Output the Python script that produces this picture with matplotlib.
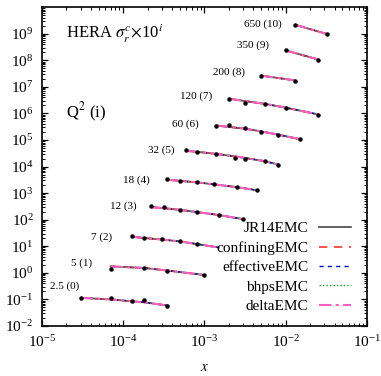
import matplotlib
matplotlib.use("Agg")
import matplotlib.pyplot as plt
import numpy as np
from matplotlib.ticker import LogLocator, LogFormatterMathtext, NullFormatter

plt.rcParams.update({"font.family": "serif", "font.serif": ["Liberation Serif", "DejaVu Serif"],
                     "mathtext.fontset": "stix", "font.size": 11})

# Q^2 bins and their scale exponent i (cross sections plotted x 10^i)
q2 = ["2.5", "5", "7", "12", "18", "32", "60", "120", "200", "350", "650"]
scale_i = [0, 1, 2, 3, 4, 5, 6, 7, 8, 9, 10]

# HERA charm data (x, sigma_r^c)
data_x = [
    [3.0e-5, 7.0e-5, 1.3e-4, 1.8e-4, 3.5e-4],
    [7.0e-5, 1.8e-4, 3.5e-4, 1.0e-3],
    [1.3e-4, 1.8e-4, 3.0e-4, 5.0e-4, 8.0e-4],
    [2.2e-4, 3.2e-4, 5.0e-4, 8.0e-4, 1.5e-3, 3.0e-3],
    [3.5e-4, 5.0e-4, 8.0e-4, 1.3e-3, 2.5e-3, 4.5e-3],
    [6.0e-4, 8.0e-4, 1.4e-3, 2.4e-3, 3.2e-3, 5.5e-3, 8.0e-3],
    [1.4e-3, 2.0e-3, 3.2e-3, 5.0e-3, 8.0e-3, 1.5e-2],
    [2.0e-3, 3.2e-3, 5.5e-3, 1.0e-2, 2.5e-2],
    [5.0e-3, 1.3e-2],
    [1.0e-2, 2.5e-2],
    [1.3e-2, 3.2e-2],
]
data_sig = [
    [0.116, 0.110, 0.089, 0.095, 0.058],
    [0.142, 0.155, 0.120, 0.083],
    [0.235, 0.198, 0.182, 0.157, 0.118],
    [0.316, 0.298, 0.235, 0.188, 0.149, 0.105],
    [0.327, 0.290, 0.259, 0.213, 0.164, 0.130],
    [0.425, 0.357, 0.300, 0.212, 0.195, 0.156, 0.110],
    [0.351, 0.360, 0.278, 0.202, 0.156, 0.107],
    [0.363, 0.257, 0.235, 0.167, 0.091],
    [0.266, 0.173],
    [0.238, 0.106],
    [0.220, 0.098],
]

# model curves (all EMC variants coincide at this scale)
theo_x = [
    [3.0e-5, 7.0e-5, 1.3e-4, 1.8e-4, 3.5e-4],
    [7.0e-5, 1.8e-4, 3.5e-4, 1.0e-3],
    [1.3e-4, 1.8e-4, 3.0e-4, 5.0e-4, 8.0e-4, 1.5e-3],
    [2.2e-4, 3.2e-4, 5.0e-4, 8.0e-4, 1.5e-3, 3.0e-3],
    [3.5e-4, 5.0e-4, 8.0e-4, 1.3e-3, 2.5e-3, 4.5e-3],
    [6.0e-4, 8.0e-4, 1.4e-3, 2.4e-3, 3.2e-3, 5.5e-3, 8.0e-3],
    [1.4e-3, 2.0e-3, 3.2e-3, 5.0e-3, 8.0e-3, 1.5e-2],
    [2.0e-3, 3.2e-3, 5.5e-3, 1.0e-2, 2.5e-2],
    [5.0e-3, 1.3e-2],
    [1.0e-2, 2.5e-2],
    [1.3e-2, 3.2e-2],
]
theo_sig = [
    [0.115, 0.100, 0.085, 0.078, 0.059],
    [0.175, 0.153, 0.122, 0.083],
    [0.228, 0.205, 0.180, 0.152, 0.122, 0.090],
    [0.300, 0.270, 0.235, 0.195, 0.150, 0.105],
    [0.320, 0.290, 0.255, 0.215, 0.168, 0.128],
    [0.390, 0.360, 0.300, 0.240, 0.210, 0.160, 0.120],
    [0.350, 0.310, 0.265, 0.210, 0.160, 0.107],
    [0.360, 0.290, 0.230, 0.165, 0.092],
    [0.266, 0.175],
    [0.235, 0.108],
    [0.218, 0.098],
]

models = ["JR14EMC", "confiningEMC", "effectiveEMC", "bhpsEMC", "deltaEMC"]
mcolors = ["#555555", "#ff3030", "#0000d0", "#20a020", "#ff5fbf"]
mstyles = ["-", (0, (5, 4)), (0, (3, 3)), (0, (1, 1.5)), (0, (6, 2, 1.5, 2))]
mwidths = [1.3, 1.2, 1.0, 1.0, 1.5]

# label anchors (right edge, data coords)
lab_x = [2.9e-5, 4.2e-5, 7.3e-5, 1.47e-4, 2.13e-4, 4.3e-4, 8.6e-4, 1.26e-3, 3.2e-3, 6.2e-3, 9.0e-3]
lab_y = [0.32, 2.28, 22.8, 333, 3.08e3, 4.14e4, 3.93e5, 4.55e6, 3.63e7, 3.66e8, 2.26e9]

fig = plt.figure(figsize=(3.81, 3.76), dpi=100)
ax = fig.add_axes([0.110, 0.133, 0.853, 0.848])
ax.set_xscale("log"); ax.set_yscale("log")

for k in range(len(q2)):
    f = 10.0 ** scale_i[k]
    tx = np.array(theo_x[k]); ty = np.array(theo_sig[k]) * f
    for m in range(len(models)):
        ax.plot(tx, ty, color=mcolors[m], ls=mstyles[m], lw=mwidths[m],
                label=models[m] if k == 0 else None, zorder=2 + m)
    ax.plot(data_x[k], np.array(data_sig[k]) * f, "o", color="black", ms=2.2, zorder=10)
    ax.text(lab_x[k], lab_y[k], f"{q2[k]} ({scale_i[k]})", ha="right", va="center", fontsize=8)

ax.text(0.075, 0.917, r"HERA $\sigma_r^c$$\times$10$^i$", transform=ax.transAxes, fontsize=12, va="center")
ax.text(0.075, 0.67, r"Q$^2$ (i)", transform=ax.transAxes, fontsize=12, va="center")

ax.set_xlim(1e-5, 1e-1)
ax.set_ylim(1e-2, 1e10)
ax.set_yticks([10.0 ** e for e in range(-2, 10)])
ax.xaxis.set_minor_locator(LogLocator(base=10, subs=np.arange(2, 10), numticks=20))
ax.yaxis.set_minor_locator(LogLocator(base=10, subs=np.arange(2, 10), numticks=30))
ax.xaxis.set_major_formatter(LogFormatterMathtext())
ax.yaxis.set_major_formatter(LogFormatterMathtext())
ax.xaxis.set_minor_formatter(NullFormatter()); ax.yaxis.set_minor_formatter(NullFormatter())
ax.tick_params(which="both", direction="in", top=True, right=True, labelsize=11, pad=6)
ax.tick_params(which="major", length=4.5, width=0.9)
ax.tick_params(which="minor", length=2.3, width=0.7)
for s in ax.spines.values():
    s.set_linewidth(1.2)
ax.set_xlabel(r"$x$", fontsize=11, labelpad=8)

leg = ax.legend(loc="lower right", bbox_to_anchor=(0.951, 0.041), markerfirst=False, frameon=False,
                fontsize=11, handlelength=2.1, handletextpad=0.7, labelspacing=0.37, borderpad=0,
                borderaxespad=0)
for t in leg.get_texts():
    t.set_ha("right")

fig.savefig("out.png", dpi=100)
